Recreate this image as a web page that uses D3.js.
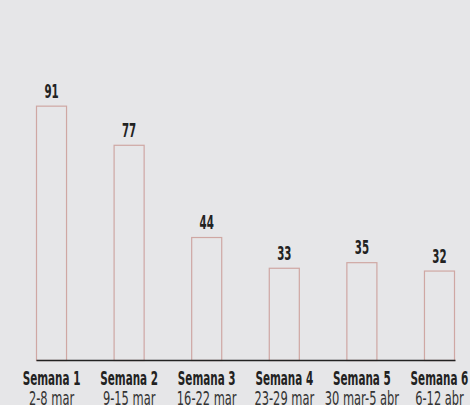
<!DOCTYPE html>
<html>
<head>
<meta charset="utf-8">
<script src="https://cdn.jsdelivr.net/npm/d3@7"></script>
<style>
  body { margin: 0; background: #e6e6e8; }
  svg { display: block; }
  text { font-family: 'DejaVu Sans Condensed', 'DejaVu Sans', sans-serif; font-stretch: condensed; fill: #222; }
</style>
</head>
<body>
<svg id="chart"></svg>
<script>

var weeks = [ 'Semana 1', 'Semana 2', 'Semana 3', 'Semana 4', 'Semana 5', 'Semana 6' ];
var dates = [ '2-8 mar', '9-15 mar', '16-22 mar', '23-29 mar', '30 mar-5 abr', '6-12 abr' ];
var values = [ 91, 77, 44, 33, 35, 32 ];

var width = 470;
var height = 405;

var svg = d3.select( '#chart' )
    .attr( 'width', width )
    .attr( 'height', height );

var x = d3.scaleBand()
    .domain( weeks )
    .range( [ 36, 455 ] )
    .paddingInner( 0.6 )
    .paddingOuter( 0 );

var y = d3.scaleLinear()
    .domain( [ 0, 100 ] )
    .range( [ 360, 80.5 ] );

function center ( name ) {
    return x( name ) + x.bandwidth() / 2;
}

// bars
svg.append( 'g' )
    .selectAll( 'rect' )
    .data( values )
    .join( 'rect' )
    .attr( 'x', function ( d, i ) { return x( weeks[ i ] ) + 0.5; } )
    .attr( 'y', function ( d ) { return y( d ) + 0.5; } )
    .attr( 'width', x.bandwidth() - 1 )
    .attr( 'height', function ( d ) { return y( 0 ) - y( d ); } )
    .attr( 'fill', 'none' )
    .attr( 'stroke', '#cfa7a3' )
    .attr( 'stroke-width', 1.2 );

// value labels
svg.append( 'g' )
    .selectAll( 'text' )
    .data( values )
    .join( 'text' )
    .attr( 'transform', function ( d, i ) {
        return 'translate(' + center( weeks[ i ] ) + ',' + ( y( d ) - 8 ) + ') scale(0.6,1)';
    })
    .attr( 'text-anchor', 'middle' )
    .attr( 'font-size', '19px' )
    .attr( 'font-weight', 'bold' )
    .text( function ( d ) { return d; } );

// baseline
var axis = svg.append( 'g' )
    .attr( 'transform', 'translate(0,' + y( 0 ) + ')' )
    .call( d3.axisBottom( x ).tickSize( 0 ).tickFormat( '' ) );

axis.select( '.domain' )
    .attr( 'stroke', '#222' )
    .attr( 'stroke-width', 1.3 );

// category labels
svg.append( 'g' )
    .selectAll( 'text' )
    .data( weeks )
    .join( 'text' )
    .attr( 'transform', function ( d ) {
        return 'translate(' + center( d ) + ',385) scale(0.61,1)';
    })
    .attr( 'text-anchor', 'middle' )
    .attr( 'font-size', '19px' )
    .attr( 'font-weight', 'bold' )
    .text( function ( d ) { return d; } );

svg.append( 'g' )
    .selectAll( 'text' )
    .data( dates )
    .join( 'text' )
    .attr( 'transform', function ( d, i ) {
        return 'translate(' + center( weeks[ i ] ) + ',405) scale(0.67,1)';
    })
    .attr( 'text-anchor', 'middle' )
    .attr( 'font-size', '19px' )
    .style( 'fill', '#333' )
    .text( function ( d ) { return d; } );

</script>
</body>
</html>
